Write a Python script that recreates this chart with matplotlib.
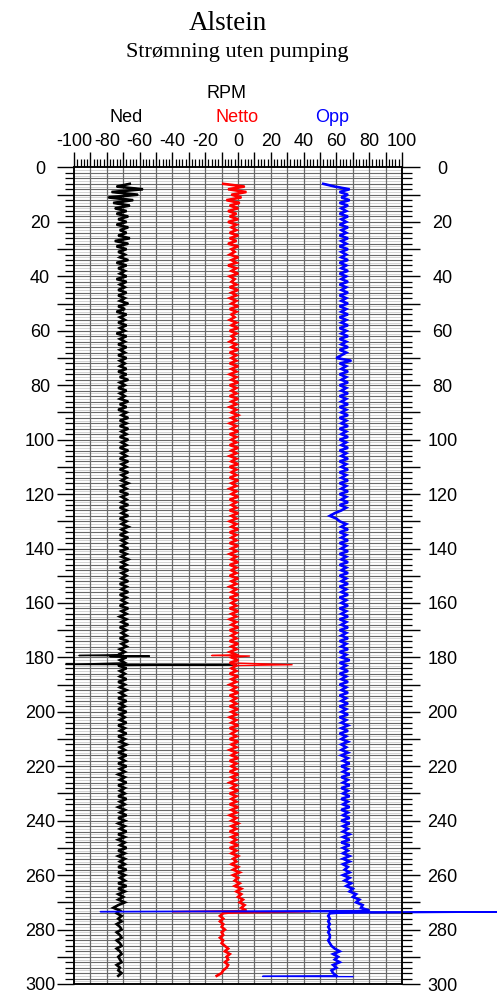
import numpy as np
import matplotlib
matplotlib.use("Agg")
import matplotlib.pyplot as plt
from matplotlib.ticker import MultipleLocator, FuncFormatter

plt.rcParams['font.family'] = ['Liberation Sans', 'DejaVu Sans']
plt.rcParams['axes.unicode_minus'] = False

# depth (m), one reading per metre from 6 to 297
depth = np.arange(6, 298)

ned = [
    -66, -74, -58, -77, -61, -79, -64, -76, -66, -75,
    -68, -74, -67, -73, -68, -74, -67, -72, -68, -73,
    -66, -75, -67, -74, -68, -73, -69, -72, -67, -74,
    -68, -73, -69, -72, -68, -74, -68, -72, -69, -73,
    -68, -73, -69, -72, -67, -73, -69, -74, -68, -72,
    -69, -73, -68, -72, -69, -74, -68, -72, -69, -73,
    -68, -72, -69, -73, -68, -72, -69, -72, -68, -73,
    -68, -72, -67, -72, -69, -73, -68, -72, -69, -72,
    -67, -72, -68, -73, -68, -71, -67, -72, -68, -72,
    -67, -71, -68, -72, -67, -71, -68, -72, -67, -71,
    -68, -72, -67, -71, -68, -72, -67, -71, -68, -71,
    -67, -71, -68, -72, -67, -71, -68, -71, -67, -72,
    -68, -71, -67, -72, -68, -71, -67, -71, -68, -72,
    -67, -71, -68, -71, -67, -72, -68, -71, -67, -71,
    -68, -72, -67, -71, -68, -71, -67, -72, -68, -71,
    -67, -72, -68, -71, -68, -72, -67, -71, -68, -72,
    -68, -71, -67, -72, -68, -71, -68, -72, -67, -71,
    -68, -72, -69, -73, -68, -72, -69, -73, -68, -72,
    -69, -72, -68, -73, -69, -72, -68, -72, -69, -73,
    -68, -72, -69, -73, -68, -72, -69, -72, -68, -73,
    -69, -72, -68, -73, -69, -72, -68, -72, -69, -73,
    -68, -72, -69, -73, -68, -72, -69, -73, -69, -72,
    -68, -73, -69, -72, -69, -73, -68, -72, -69, -73,
    -69, -72, -68, -73, -69, -73, -69, -72, -68, -73,
    -69, -73, -69, -72, -68, -73, -69, -73, -69, -72,
    -69, -73, -68, -73, -69, -72, -69, -73, -68, -73,
    -69, -73, -70, -73, -69, -73, -76, -72, -74, -71,
    -73, -71, -74, -72, -71, -74, -72, -71, -74, -72,
    -71, -74, -72, -71, -73, -72, -71, -74, -72, -73,
    -71, -73,
]

netto = [
    -9, 4, -6, 5, -4, 2, -7, 1, -5, 0,
    -6, -1, -5, 0, -6, -1, -4, -1, -5, 0,
    -5, -1, -6, 0, -4, -2, -5, 0, -4, -1,
    -6, -1, -4, 0, -5, -2, -4, -1, -5, 0,
    -4, -1, -5, -1, -4, 0, -5, -1, -4, -2,
    -5, -1, -4, 0, -5, -1, -4, -2, -5, -1,
    -4, 0, -5, -1, -4, -1, -5, 0, -4, -1,
    -5, -1, -4, 0, -5, -1, -4, -1, -5, 0,
    -4, -1, -5, -1, -4, 0, -4, -1, -5, -1,
    -4, 0, -5, -1, -4, -1, -5, 0, -4, -1,
    -5, -1, -4, 0, -5, -1, -4, -1, -5, 0,
    -4, -1, -5, -1, -4, 0, -5, -1, -4, -1,
    -5, 0, -4, -1, -5, -1, -4, 0, -5, -1,
    -4, -1, -5, 0, -4, -1, -5, -1, -4, 0,
    -5, -1, -4, -1, -5, 0, -4, -1, -5, -1,
    -4, 0, -5, -1, -4, -1, -5, 0, -4, -1,
    -5, -1, -4, 0, -5, -1, -4, -1, -5, 0,
    -4, -1, -5, -1, -4, 0, -5, -1, -4, -1,
    -5, 0, -4, -1, -5, -1, -4, 0, -5, -1,
    -4, -1, -5, 0, -4, -1, -5, -1, -4, 0,
    -5, -1, -4, -1, -5, 0, -4, -1, -5, -1,
    -4, 0, -5, -1, -4, -1, -5, 0, -4, -1,
    -5, -1, -4, 0, -5, -1, -4, -1, -5, 0,
    -4, -1, -5, -1, -4, 0, -4, -1, -5, 0,
    -4, -1, -4, 0, -5, -1, -4, 0, -3, -1,
    -4, 0, -3, 1, -3, 0, -2, 1, -2, 2,
    -1, 2, 0, 3, 1, 4, 2, 5, -9, -11,
    -9, -11, -9, -10, -8, -10, -9, -11, -9, -10,
    -8, -6, -8, -5, -7, -6, -8, -6, -7, -9,
    -10, -13,
]

opp = [
    52, 59, 68, 62, 67, 63, 68, 62, 67, 63,
    66, 62, 67, 63, 66, 62, 67, 63, 66, 62,
    67, 63, 66, 62, 67, 63, 66, 63, 67, 62,
    66, 63, 67, 62, 66, 63, 67, 62, 66, 63,
    67, 62, 66, 63, 67, 62, 66, 63, 67, 62,
    66, 63, 67, 62, 66, 63, 67, 62, 66, 63,
    67, 62, 66, 63, 60, 69, 62, 66, 63, 67,
    62, 66, 63, 67, 62, 66, 63, 67, 62, 66,
    63, 67, 62, 66, 63, 67, 62, 66, 63, 67,
    62, 66, 63, 67, 62, 66, 63, 67, 62, 66,
    63, 67, 62, 66, 63, 67, 62, 66, 63, 67,
    62, 66, 63, 67, 62, 66, 63, 67, 62, 66,
    63, 59, 56, 60, 62, 66, 63, 67, 62, 66,
    63, 67, 62, 66, 63, 67, 62, 66, 63, 67,
    62, 66, 63, 67, 62, 66, 63, 67, 62, 66,
    63, 67, 62, 66, 63, 67, 62, 66, 63, 67,
    62, 66, 63, 67, 62, 66, 63, 67, 62, 66,
    63, 67, 62, 66, 63, 68, 62, 66, 63, 67,
    62, 66, 63, 67, 62, 66, 63, 67, 62, 66,
    63, 67, 62, 66, 63, 67, 62, 66, 63, 67,
    63, 67, 62, 66, 63, 67, 63, 66, 63, 67,
    63, 67, 64, 68, 63, 67, 64, 68, 63, 67,
    64, 68, 63, 67, 64, 68, 63, 67, 64, 68,
    63, 67, 64, 68, 63, 68, 64, 67, 64, 68,
    64, 68, 63, 68, 64, 67, 64, 68, 64, 68,
    64, 67, 65, 68, 64, 68, 65, 69, 66, 70,
    68, 72, 70, 74, 72, 76, 75, 80, 56, 55,
    56, 55, 56, 55, 56, 55, 56, 56, 55, 56,
    57, 59, 62, 58, 61, 59, 62, 58, 60, 57,
    58, 60,
]

# single outlier readings (depth, value)
ned_spike_depth = [179.3, 179.5, 179.7, 182.6, 182.7]
ned_spike_val = [-97, -54, -78, -105, -1]
netto_spike_depth = [179.3, 179.5, 182.7, 273.4, 273.5]
netto_spike_val = [-16, 7, 33, -40, 44]
opp_spike_depth = [273.4, 273.5, 297.2, 297.3]
opp_spike_val = [-84, 170, 15, 70]


def merge(vals, sd, sv):
    d = np.concatenate([depth, sd])
    v = np.concatenate([vals, sv])
    order = np.argsort(d, kind="stable")
    return d[order], v[order]


def every20(v, p):
    return f"{int(round(v))}" if int(round(v)) % 20 == 0 else ""


fig = plt.figure(figsize=(4.97, 9.93), dpi=100)
ax = fig.add_axes([74 / 497, 9 / 993, 328 / 497, 816.5 / 993])

ax.set_xlim(-100, 100)
ax.set_ylim(300, 0)

# grid
ax.xaxis.set_major_locator(MultipleLocator(10))
ax.xaxis.set_minor_locator(MultipleLocator(2))
ax.yaxis.set_major_locator(MultipleLocator(10))
ax.yaxis.set_minor_locator(MultipleLocator(2))
for yy in np.arange(1, 300, 2):
    ax.axhline(yy, color="#d4d4d4", lw=0.7, zorder=0)
for yy in np.arange(2, 300, 2):
    ax.axhline(yy, color="#6a6a6a", lw=0.8, zorder=0.5)
for xx in np.arange(-90, 100, 10):
    ax.axvline(xx, color="#6a6a6a", lw=0.9, zorder=0.5)

# thin line through every reading (outliers included), thicker trace for the log itself
for vals, sd, sv, col in [(ned, ned_spike_depth, ned_spike_val, "black"),
                          (netto, netto_spike_depth, netto_spike_val, "red"),
                          (opp, opp_spike_depth, opp_spike_val, "blue")]:
    d, v = merge(vals, sd, sv)
    ax.plot(v, d, color=col, lw=1.0, clip_on=False, zorder=3)
    ax.plot(vals, depth, color=col, lw=1.9, clip_on=False, zorder=3,
            solid_joinstyle="miter")

for s in ax.spines.values():
    s.set_linewidth(1.1)

# x axis on top
ax.xaxis.tick_top()
ax.xaxis.set_major_formatter(FuncFormatter(every20))
ax.tick_params(axis="x", which="major", direction="out", length=11, width=1.0,
               labelsize=13, pad=1.5)
ax.tick_params(axis="x", which="minor", direction="out", length=5.5, width=0.9)

# y axis left
ax.yaxis.set_major_formatter(FuncFormatter(every20))
ax.tick_params(axis="y", which="major", direction="out", length=12.5, width=1.0,
               labelsize=13, pad=12, right=False)
ax.tick_params(axis="y", which="minor", direction="out", length=6.5, width=0.9, right=False)
for lbl in ax.get_yticklabels():
    lbl.set_horizontalalignment("center")

# y axis right
ax2 = ax.twinx()
ax2.set_ylim(300, 0)
ax2.yaxis.set_major_locator(MultipleLocator(10))
ax2.yaxis.set_minor_locator(MultipleLocator(2))
ax2.yaxis.set_major_formatter(FuncFormatter(every20))
ax2.tick_params(axis="y", which="major", direction="out", length=13, width=1.0,
                labelsize=13, pad=16)
ax2.tick_params(axis="y", which="minor", direction="out", length=7, width=0.9)
for lbl in ax2.get_yticklabels():
    lbl.set_horizontalalignment("center")
for s in ax2.spines.values():
    s.set_linewidth(1.1)

# titles and header labels
fig.text(228 / 497, 1 - 23 / 993, "Alstein", family="Liberation Serif",
         fontsize=19.5, ha="center", va="center")
fig.text(237 / 497, 1 - 52 / 993, "Strømning uten pumping", family="Liberation Serif",
         fontsize=16, ha="center", va="center")
fig.text(226 / 497, 1 - 93 / 993, "RPM", fontsize=13, ha="center", va="center")
fig.text(126 / 497, 1 - 117 / 993, "Ned", fontsize=13, ha="center", va="center", color="black")
fig.text(237 / 497, 1 - 117 / 993, "Netto", fontsize=13, ha="center", va="center", color="red")
fig.text(332 / 497, 1 - 117 / 993, "Opp", fontsize=13, ha="center", va="center", color="blue")

fig.savefig("out.png", dpi=100)
